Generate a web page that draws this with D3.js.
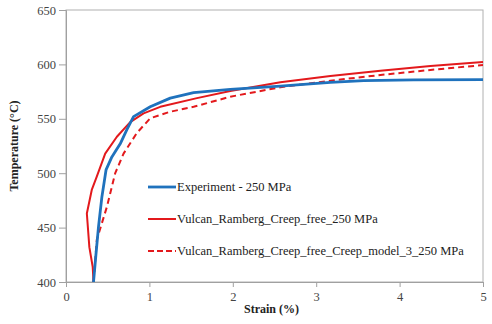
<!DOCTYPE html>
<html lang="en">
<head>
<meta charset="UTF-8">
<title>Temperature vs Strain</title>
<script src="https://d3js.org/d3.v7.min.js"></script>
<style>
  body { margin: 0; background: #fff; }
  svg text { font-family: "Liberation Serif", "DejaVu Serif", serif !important; }
  .tick text { font-size: 12.5px; fill: #444; }
  .label { font-weight: bold; font-size: 12px; fill: #222; }
  .legend text { font-size: 12.5px; fill: #222; }
</style>
</head>
<body>
<div class="chart"></div>
<script>
// Experiment - 250 MPa
const expStrain = [0.33, 0.36, 0.39, 0.43, 0.48, 0.55, 0.65, 0.73, 0.81, 1.01, 1.25, 1.53, 1.97, 2.57, 3.17, 3.57, 4.17, 5.0];
const expTemp   = [400, 426, 451, 478, 503, 515, 527, 540, 552, 561, 569, 574, 577, 580, 583.5, 585, 585.7, 586];

// Vulcan_Ramberg_Creep_free_250 MPa
const rcfStrain = [0.33, 0.32, 0.28, 0.25, 0.31, 0.37, 0.47, 0.61, 0.77, 0.93, 1.13, 1.57, 1.97, 2.57, 3.17, 3.77, 4.37, 5.0];
const rcfTemp   = [400, 414, 432, 463, 485, 497, 518, 533.5, 547, 555, 561, 569, 575.5, 583.5, 589.3, 594.2, 598.5, 602.2];

// Vulcan_Ramberg_Creep_free_Creep_model_3_250 MPa
const cm3Strain = [0.33, 0.37, 0.49, 0.59, 0.69, 0.85, 1.01, 1.25, 1.53, 1.97, 2.57, 3.17, 3.77, 4.37, 5.0];
const cm3Temp   = [400, 439, 469, 500, 518, 537, 550.5, 556.5, 561, 570.3, 579, 585, 590.3, 594.9, 599.4];

const xTicks = [0, 1, 2, 3, 4, 5];
const yTicks = [400, 450, 500, 550, 600, 650];

const seriesNames = [
  "Experiment - 250 MPa",
  "Vulcan_Ramberg_Creep_free_250 MPa",
  "Vulcan_Ramberg_Creep_free_Creep_model_3_250 MPa"
];

const W = 492, H = 324;
const margin = { top: 10, right: 9, bottom: 42, left: 66 };
const width = W - margin.left - margin.right;
const height = H - margin.top - margin.bottom;

const svg = d3.select('.chart').append('svg')
  .attr('width', W).attr('height', H);
const g = svg.append('g').attr('transform', `translate(${margin.left},${margin.top})`);

const x = d3.scaleLinear().domain([0, 5]).range([0, width]);
const y = d3.scaleLinear().domain([400, 650]).range([height, 0]);

// frame
g.append('rect').attr('x', 0).attr('y', 0).attr('width', width).attr('height', height)
  .attr('fill', 'none').attr('stroke', '#b0b0b0').attr('stroke-width', 1);

const xAxis = g.append('g').attr('transform', `translate(0,${height})`)
  .call(d3.axisBottom(x).tickValues(xTicks).tickSize(5).tickPadding(5).tickFormat(d3.format('d')));
const yAxis = g.append('g')
  .call(d3.axisLeft(y).tickValues(yTicks).tickSize(7).tickPadding(3));
[xAxis, yAxis].forEach(a => {
  a.attr('font-family', null).attr('font-size', null);
  a.select('.domain').attr('stroke', '#a0a0a0');
  a.selectAll('.tick line').attr('stroke', '#a0a0a0');
});

const toPts = (xs, ys) => xs.map((v, i) => [v, ys[i]]);
const line = d3.line().x(d => x(d[0])).y(d => y(d[1]));

const series = [
  { pts: toPts(cm3Strain, cm3Temp), color: '#e3191c', w: 2, dash: '6,4' },
  { pts: toPts(rcfStrain, rcfTemp), color: '#e3191c', w: 2, dash: null },
  { pts: toPts(expStrain, expTemp), color: '#1f72bd', w: 2.8, dash: null }
];

series.forEach(s => {
  g.append('path').datum(s.pts)
    .attr('fill', 'none').attr('stroke', s.color).attr('stroke-width', s.w)
    .attr('stroke-dasharray', s.dash).attr('stroke-linejoin', 'round')
    .attr('d', line);
});

// legend
const legendItems = [
  { name: seriesNames[0], color: '#1f72bd', w: 2.8, dash: null },
  { name: seriesNames[1], color: '#e3191c', w: 2, dash: null },
  { name: seriesNames[2], color: '#e3191c', w: 2, dash: '6,3' }
];
const legend = svg.append('g').attr('class', 'legend');
legendItems.forEach((it, i) => {
  const ly = 187 + i * 32;
  legend.append('line').attr('x1', 148).attr('x2', 176).attr('y1', ly).attr('y2', ly)
    .attr('stroke', it.color).attr('stroke-width', it.w).attr('stroke-dasharray', it.dash);
  legend.append('text').attr('x', 177).attr('y', ly + 4).text(it.name);
});

// axis titles
svg.append('text').attr('class', 'label')
  .attr('x', margin.left + width / 2 - 3).attr('y', 313)
  .attr('text-anchor', 'middle').text('Strain (%)');
svg.append('text').attr('class', 'label')
  .attr('transform', `translate(18,${margin.top + height / 2}) rotate(-90)`)
  .attr('text-anchor', 'middle').text('Temperature (°C)');
</script>
</body>
</html>
